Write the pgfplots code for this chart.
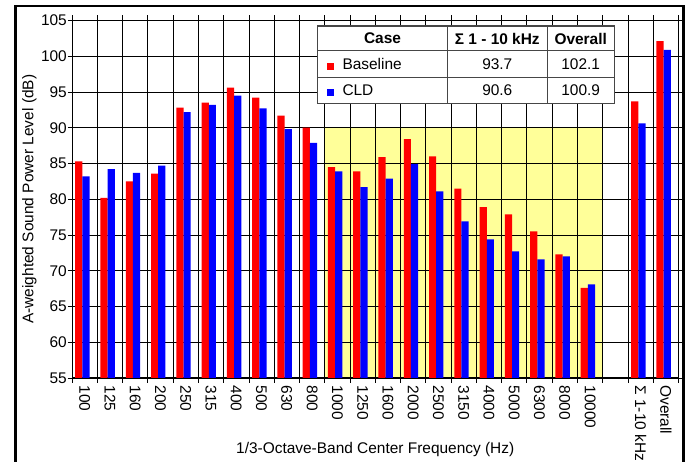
\documentclass[border=0pt]{standalone}
\usepackage{pgfplots}
\usepackage{pgfplotstable}
\pgfplotsset{compat=1.18}
\usepackage{fontspec}
\setmainfont{Liberation Sans}
\definecolor{bgyellow}{RGB}{255,255,153}
\definecolor{tblgray}{RGB}{70,70,70}

\pgfplotstableread{
x base cld
0 85.3 83.2
1 80.2 84.2
2 82.5 83.7
3 83.6 84.7
4 92.8 92.2
5 93.5 93.2
6 95.6 94.5
7 94.2 92.7
8 91.7 89.8
9 90.0 87.9
10 84.5 83.9
11 83.9 81.7
12 85.9 82.9
13 88.4 84.9
14 86.0 81.1
15 81.5 76.9
16 78.9 74.4
17 77.9 72.7
18 75.5 71.6
19 72.3 72.0
20 67.6 68.1
22 93.7 90.6
23 102.1 100.9
}\datatable

\newcommand{\tf}{\fontsize{15.5}{18}\selectfont}

\begin{document}
\begin{tikzpicture}[x=1bp,y=1bp]
\begin{axis}[
  set layers,
  at={(0,0)}, anchor=south west,
  scale only axis, width=606.5bp, height=357.5bp,
  xmin=-0.5, xmax=23.5, ymin=55, ymax=105,
  ytick={55,60,...,105},
  xtick={0,...,20,22,23},
  xticklabels={100,125,160,200,250,315,400,500,630,800,1000,1250,1600,2000,2500,3150,4000,5000,6300,8000,10000,Σ 1-10 kHz,Overall},
  minor xtick={-0.5,0.5,...,23.5},
  xminorgrids=true, ymajorgrids=true, xmajorgrids=false,
  major grid style={black, line width=0.8bp},
  minor grid style={black, line width=0.8bp},
  tick align=outside,
  major tick length=4bp, minor tick length=5bp,
  major x tick style={draw=none},
  tick style={black, line width=0.8bp},
  axis line style={black, line width=1bp},
  /pgf/number format/assume math mode=true,
  tick label style={font=\tf},
  yticklabel style={inner sep=1bp},
  xticklabel style={rotate=-90, anchor=west},
  ylabel={A-weighted Sound Power Level (dB)},
  xlabel={1/3-Octave-Band Center Frequency (Hz)},
  label style={font=\tf},
  ylabel style={at={(axis description cs:-0.0701,0.5)}, anchor=center},
  xlabel style={at={(axis description cs:0.5,-0.2014)}, anchor=center},
]
\addplot[fill=bgyellow, draw=none, on layer=axis background] coordinates {(9.5,55) (9.5,90) (20.5,90) (20.5,55)} -- cycle;
\addplot[ybar, bar width=0.285, bar shift=-0.23, fill=red, draw=none] table[x=x, y=base] {\datatable};
\addplot[ybar, bar width=0.285, bar shift=0.055, fill=blue, draw=none] table[x=x, y=cld] {\datatable};
\end{axis}
% summary table
\fill[white] (245.3,274.7) rectangle (542.3,352);
\draw[tblgray, line width=1bp] (245.3,327) -- (542.3,327) (245.3,300.3) -- (542.3,300.3)
  (375.7,274.7) -- (375.7,352) (475,274.7) -- (475,352);
\draw[tblgray, line width=1.3bp] (245.3,274.7) rectangle (542.3,352);
\node[font=\tf\bfseries] at (310.5,339.5) {Case};
\node[font=\tf\bfseries] at (425.3,339.5) {Σ 1 - 10 kHz};
\node[font=\tf\bfseries] at (508.7,339.5) {Overall};
\node[font=\tf, anchor=west, inner sep=0pt] at (254.7,313.7) {\textcolor{red}{\rule{7bp}{7bp}}\hspace{8.6bp}Baseline};
\node[font=\tf, anchor=west, inner sep=0pt] at (254.7,287.5) {\textcolor{blue}{\rule{7bp}{7bp}}\hspace{8.6bp}CLD};
\node[font=\tf] at (425.3,313.7) {93.7};
\node[font=\tf] at (508.7,313.7) {102.1};
\node[font=\tf] at (425.3,287.5) {90.6};
\node[font=\tf] at (508.7,287.5) {100.9};
% outer frame
\draw[black, line width=2.5bp] (-56.5,-100) -- (-56.5,372) -- (611.5,372) -- (611.5,-100);
\pgfresetboundingbox
\path[use as bounding box] (-72,-84) rectangle (617,378);
\end{tikzpicture}
\end{document}
